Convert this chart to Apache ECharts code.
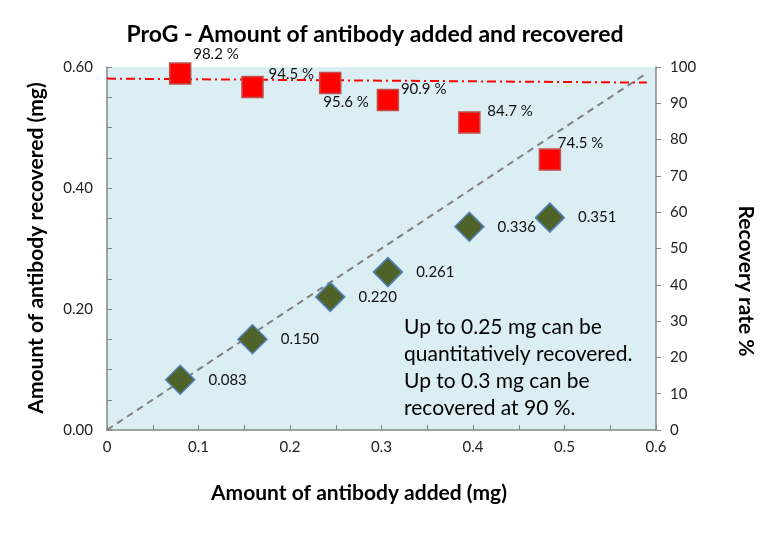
<!DOCTYPE html>
<html>
<head>
<meta charset="utf-8">
<script src="https://cdn.jsdelivr.net/npm/echarts@6/dist/echarts.min.js"></script>
<style>html,body{margin:0;padding:0;background:#fff}#c{width:778px;height:546px}</style>
</head>
<body>
<div id="c"></div>
<script>
// ---- data ----
const amountAdded = [0.080, 0.159, 0.244, 0.307, 0.396, 0.484];
const amountRecovered = [0.083, 0.150, 0.220, 0.261, 0.336, 0.351];
const recoveryRate = [98.2, 94.5, 95.6, 90.9, 84.7, 74.5];
const identityLine = [[0, 0], [0.59, 0.59]];
const rateTrendLine = [[0, 96.8], [0.59, 95.7]];
const xTicks = [0, 0.1, 0.2, 0.3, 0.4, 0.5, 0.6];
const yLeftTicks = [0, 0.2, 0.4, 0.6];
const yRightTicks = [0, 10, 20, 30, 40, 50, 60, 70, 80, 90, 100];
const titleText = 'ProG - Amount of antibody added and recovered';
const noteLines = ['Up to 0.25 mg can be', 'quantitatively recovered.', 'Up to 0.3 mg can be', 'recovered at 90 %.'];

// label offsets (layout only)
const rateLabelOffsets = [[13, -19], [16, -13], [-7, 19], [13, -11], [18, -11], [8, -16]];

const FONT = 'Lato, "Open Sans", sans-serif';
const axisGrey = '#868686';

function near(v, list) { return list.some(t => Math.abs(v - t) < 1e-6); }

const chart = echarts.init(document.getElementById('c'));
chart.setOption({
  animation: false,
  backgroundColor: '#fff',
  grid: { left: 107, right: 122, top: 67, bottom: 116, show: true, backgroundColor: '#DAEEF3', borderWidth: 0 },
  xAxis: {
    type: 'value', min: 0, max: 0.6, interval: 0.05,
    axisLine: { show: true, lineStyle: { color: axisGrey, width: 1.5 } },
    axisTick: { show: true, inside: true, length: 5, lineStyle: { color: axisGrey } },
    splitLine: { show: false },
    axisLabel: {
      color: '#222', fontFamily: FONT, fontSize: 15, margin: 10, showMinLabel: true, showMaxLabel: true,
      formatter: v => near(v, xTicks) ? String(Math.round(v * 10) / 10) : ''
    }
  },
  yAxis: [{
    type: 'value', min: 0, max: 0.6, interval: 0.05, position: 'left',
    axisLine: { show: true, lineStyle: { color: axisGrey, width: 1.5 } },
    axisTick: { show: true, inside: true, length: 5, lineStyle: { color: axisGrey } },
    splitLine: { show: false },
    axisLabel: {
      color: '#222', fontFamily: FONT, fontSize: 15, margin: 14,
      formatter: v => near(v, yLeftTicks) ? v.toFixed(2) : ''
    }
  }, {
    type: 'value', min: 0, max: 100, interval: 10, position: 'right',
    axisLine: { show: true, lineStyle: { color: axisGrey, width: 1.5 } },
    axisTick: { show: true, inside: false, length: 5, lineStyle: { color: axisGrey } },
    splitLine: { show: false },
    axisLabel: {
      color: '#222', fontFamily: FONT, fontSize: 15, margin: 14,
      formatter: v => near(v, yRightTicks) ? String(Math.round(v)) : ''
    }
  }],
  series: [{
    type: 'line', data: identityLine, symbol: 'none', silent: true, z: 1,
    lineStyle: { color: '#808080', width: 2, type: [7, 5] }
  }, {
    type: 'line', yAxisIndex: 1, data: rateTrendLine, symbol: 'none', silent: true, z: 1,
    lineStyle: { color: '#FF0000', width: 2, type: [9, 4, 2, 4] }
  }, {
    type: 'scatter', z: 3,
    data: amountAdded.map((x, i) => [x, amountRecovered[i]]),
    symbol: 'diamond', symbolSize: 29,
    itemStyle: { color: '#4F6228', borderColor: '#4F81BD', borderWidth: 1.5, opacity: 1 },
    label: {
      show: true, position: 'right', distance: 13, color: '#111', fontFamily: FONT, fontSize: 15,
      formatter: p => amountRecovered[p.dataIndex].toFixed(3)
    }
  }, {
    type: 'scatter', yAxisIndex: 1, z: 4,
    data: amountAdded.map((x, i) => ({
      value: [x, recoveryRate[i]],
      label: { offset: rateLabelOffsets[i] }
    })),
    symbol: 'rect', symbolSize: 21,
    itemStyle: { color: '#FF0000', borderColor: '#C0504D', borderWidth: 1.5, opacity: 1 },
    label: {
      show: true, position: ['50%', '50%'], align: 'left', verticalAlign: 'middle',
      color: '#111', fontFamily: FONT, fontSize: 15,
      formatter: p => recoveryRate[p.dataIndex].toFixed(1) + ' %'
    }
  }],
  graphic: [
    { type: 'text', x: 375, y: 35, z: 10,
      style: { text: titleText, font: 'bold 23px ' + FONT, fill: '#000', align: 'center', verticalAlign: 'middle' } },
    { type: 'text', x: 359, y: 493, z: 10,
      style: { text: 'Amount of antibody added (mg)', font: 'bold 21px ' + FONT, fill: '#000', align: 'center', verticalAlign: 'middle' } },
    { type: 'text', x: 36, y: 248, rotation: Math.PI / 2, z: 10,
      style: { text: 'Amount of antibody recovered (mg)', font: 'bold 21px ' + FONT, fill: '#000', align: 'center', verticalAlign: 'middle' } },
    { type: 'text', x: 746, y: 281, rotation: -Math.PI / 2, z: 10,
      style: { text: 'Recovery rate %', font: 'bold 21px ' + FONT, fill: '#000', align: 'center', verticalAlign: 'middle' } },
    { type: 'text', x: 404, y: 313.5, z: 10,
      style: { text: noteLines.join('\n'), font: '21px ' + FONT, lineHeight: 27, fill: '#000', align: 'left', verticalAlign: 'top' } }
  ]
});
</script>
</body>
</html>
